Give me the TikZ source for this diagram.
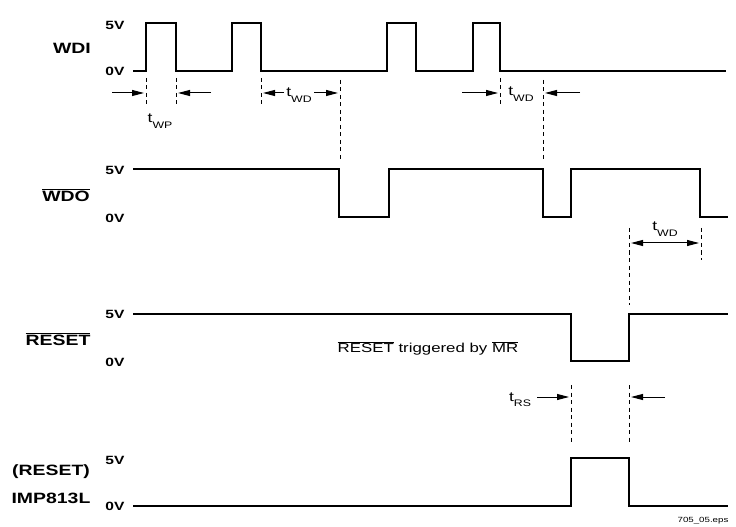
\documentclass[tikz,border=0pt]{standalone}
\usepackage{fontspec}
\setmainfont[FakeStretch=1.3]{Liberation Sans}
\usetikzlibrary{arrows.meta}
\newcommand\ovl[1]{$\overline{\hbox{#1}}$}
\newcommand\tsub[1]{t\raisebox{-0.4em}{\fontsize{9.5}{10}\selectfont #1}}
\begin{document}
\begin{tikzpicture}[x=1bp,y=-1bp,
  sig/.style={line width=1.9bp, line join=miter},
  guide/.style={line width=1bp, dash pattern=on 4bp off 3.5bp},
  tarr/.style={line width=1bp, -{Triangle[length=12bp,width=6bp]}},
  tarr2/.style={line width=1bp, {Triangle[length=12bp,width=6bp]}-{Triangle[length=12bp,width=6bp]}},
  big/.style={font=\bfseries\fontsize{15}{17}\selectfont, inner sep=0pt},
  lev/.style={font=\bfseries\fontsize{12}{13}\selectfont, inner sep=0pt},
  tl/.style={font=\fontsize{13.5}{14}\selectfont, inner sep=0pt}]
\useasboundingbox (0,0) rectangle (736,527);

% ---------- labels ----------
\node[big] (wdi) at (72,48) {WDI};
\node[lev] (wdi5) at (115,25) {5V};
\node[lev] (wdi0) at (115,71) {0V};

\node[big] (wdo) at (66,195) {\ovl{WDO}};
\node[lev] (wdo5) at (115,170) {5V};
\node[lev] (wdo0) at (115,218) {0V};

\node[big] (rst) at (58,339) {\ovl{RESET}};
\node[lev] (rst5) at (115,314) {5V};
\node[lev] (rst0) at (115,362) {0V};

\node[big] (imp1) at (51,472) {(RESET)};
\node[big] (imp2) at (51,498) {IMP813L};
\node[lev] (imp5) at (115,460) {5V};
\node[lev] (imp0) at (115,506) {0V};

% ---------- waveforms ----------
\draw[sig] (133,71) -- (146,71) -- (146,23) -- (176,23) -- (176,71) -- (232,71) -- (232,23)
  -- (261,23) -- (261,71) -- (387,71) -- (387,23) -- (416,23) -- (416,71) -- (473,71)
  -- (473,23) -- (500,23) -- (500,71) -- (726,71);
\draw[sig] (133,169) -- (339,169) -- (339,217) -- (389,217) -- (389,169) -- (543,169)
  -- (543,217) -- (571,217) -- (571,169) -- (700,169) -- (700,217) -- (728,217);
\draw[sig] (133,314) -- (571,314) -- (571,361) -- (629,361) -- (629,314) -- (728,314);
\draw[sig] (133,506) -- (571,506) -- (571,458) -- (629,458) -- (629,506) -- (728,506);

% ---------- guide coordinates ----------
\coordinate (g1a) at (146,78);  \coordinate (g1b) at (146,108);
\coordinate (g2a) at (176,78);  \coordinate (g2b) at (176,108);
\coordinate (g3a) at (261,78);  \coordinate (g3b) at (261,108);
\coordinate (g4a) at (340,80);  \coordinate (g4b) at (340,160);
\coordinate (g5a) at (500,78);  \coordinate (g5b) at (500,108);
\coordinate (g6a) at (543,80);  \coordinate (g6b) at (543,160);
\coordinate (g7a) at (629,228); \coordinate (g7b) at (629,305);
\coordinate (g8a) at (701,228); \coordinate (g8b) at (701,260);
\coordinate (g9a) at (571,385); \coordinate (g9b) at (571,445);
\coordinate (g10a) at (629,385); \coordinate (g10b) at (629,445);
\foreach \g in {1,...,10} \draw[guide] (g\g a) -- (g\g b);

% ---------- timing arrows ----------
\coordinate (a1) at (112,93);  \coordinate (a1t) at (144,93);
\coordinate (a2) at (211,93);  \coordinate (a2t) at (178,93);
\draw[tarr] (a1) -- (a1t);
\draw[tarr] (a2) -- (a2t);
\node[tl] (twp) at (160,121) {\tsub{WP}};

\coordinate (a3) at (284,93);  \coordinate (a3t) at (263,93);
\coordinate (a4) at (314,93);  \coordinate (a4t) at (338,93);
\draw[tarr] (a3) -- (a3t);
\draw[tarr] (a4) -- (a4t);
\node[tl] (twd1) at (299,95) {\tsub{WD}};

\coordinate (a5) at (462,93);  \coordinate (a5t) at (498,93);
\coordinate (a6) at (580,93);  \coordinate (a6t) at (545,93);
\draw[tarr] (a5) -- (a5t);
\draw[tarr] (a6) -- (a6t);
\node[tl] (twd2) at (521,94) {\tsub{WD}};

\coordinate (a7) at (631,243); \coordinate (a7t) at (699,243);
\draw[tarr2] (a7) -- (a7t);
\node[tl] (twd3) at (665,229) {\tsub{WD}};

\coordinate (a8) at (537,397); \coordinate (a8t) at (569,397);
\coordinate (a9) at (665,397); \coordinate (a9t) at (631,397);
\draw[tarr] (a8) -- (a8t);
\draw[tarr] (a9) -- (a9t);
\node[tl] (trs) at (520,400) {\tsub{RS}};

% ---------- notes ----------
\node[font=\fontsize{13}{14}\selectfont, inner sep=0pt] (note) at (428,348)
  {\ovl{RESET} triggered by \ovl{MR}};
\node[font=\fontsize{7.5}{8}\selectfont, inner sep=0pt] (eps) at (703,521) {705\_05.eps};
\end{tikzpicture}
\end{document}
